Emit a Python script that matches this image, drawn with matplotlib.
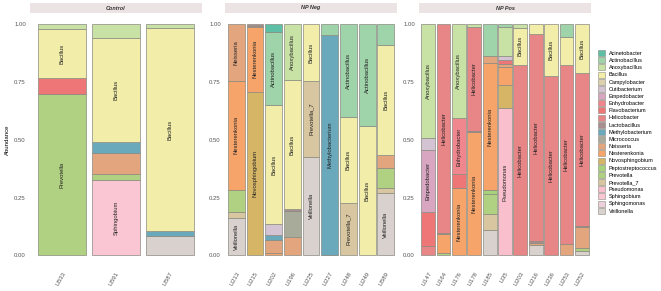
import matplotlib
matplotlib.use('Agg')
import matplotlib.pyplot as plt
from matplotlib.patches import Patch

plt.rcParams['font.family'] = ['Liberation Sans', 'DejaVu Sans']

# genera in legend order (first one ends up at the top of each stack)
genera = ['Acinetobacter', 'Actinobacillus', 'Anoxybacillus', 'Bacillus',
          'Campylobacter', 'Cutibacterium', 'Empedobacter', 'Enhydrobacter',
          'Flavobacterium', 'Helicobacter', 'Lactobacillus', 'Methylobacterium',
          'Micrococcus', 'Neisseria', 'Nesterenkonia', 'Novosphingobium',
          'Peptostreptococcus', 'Prevotella', 'Prevotella_7', 'Pseudomonas',
          'Sphingobium', 'Sphingomonas', 'Veillonella']
colors = ['#5DBFA5', '#9FD3A9', '#C8E2A6', '#F2EEAA',
          '#DCD0AE', '#D3C3D3', '#D9A6C2', '#F0868E',
          '#EE7676', '#E88587', '#A88E90', '#6AA8BC',
          '#A9AB9A', '#E3A57E', '#F6A46A', '#D6B666',
          '#A6D27C', '#B0D181', '#D8C6A0', '#F9BFCC',
          '#FAC6D4', '#EBCFDA', '#D9D1CD']

groups = ['Control', 'NP Neg', 'NP Pos']

control_samples = ['LI533', 'LI591', 'LI587']
control_values = [
    dict(Anoxybacillus=0.022, Bacillus=0.212, Flavobacterium=0.066, Prevotella=0.700),
    dict(Anoxybacillus=0.061, Bacillus=0.447, Methylobacterium=0.050, Neisseria=0.091,
         Prevotella=0.025, Sphingobium=0.326),
    dict(Anoxybacillus=0.017, Bacillus=0.878, Methylobacterium=0.021, Veillonella=0.084),
]

neg_samples = ['LI213', 'LI215', 'LI202', 'LI196', 'LI225', 'LI227', 'LI248', 'LI249', 'LI589']
neg_values = [
    dict(Neisseria=0.244, Nesterenkonia=0.473, Prevotella=0.097, Prevotella_7=0.022,
         Veillonella=0.164),
    dict(Lactobacillus=0.006, Neisseria=0.006, Nesterenkonia=0.280, Novosphingobium=0.708),
    dict(Acinetobacter=0.035, Actinobacillus=0.314, Bacillus=0.517, Cutibacterium=0.046,
         Methylobacterium=0.022, Neisseria=0.057, Nesterenkonia=0.009),
    dict(Anoxybacillus=0.241, Bacillus=0.560, Lactobacillus=0.005, Micrococcus=0.116,
         Neisseria=0.078),
    dict(Bacillus=0.245, Prevotella_7=0.331, Veillonella=0.424),
    dict(Actinobacillus=0.046, Methylobacterium=0.950, Micrococcus=0.004),
    dict(Actinobacillus=0.400, Bacillus=0.371, Prevotella_7=0.229),
    dict(Actinobacillus=0.439, Bacillus=0.561),
    dict(Actinobacillus=0.090, Bacillus=0.474, Neisseria=0.058, Prevotella=0.088,
         Prevotella_7=0.022, Veillonella=0.268),
]

pos_samples = ['LI147', 'LI164', 'LI176', 'LI178', 'LI185', 'LI35', 'LI203', 'LI216',
               'LI236', 'LI253', 'LI252']
pos_values = [
    dict(Anoxybacillus=0.494, Cutibacterium=0.050, Empedobacter=0.267, Flavobacterium=0.150,
         Helicobacter=0.039),
    dict(Lactobacillus=0.005, Helicobacter=0.904, Nesterenkonia=0.082, Prevotella=0.009),
    dict(Anoxybacillus=0.407, Enhydrobacter=0.242, Flavobacterium=0.058, Nesterenkonia=0.293),
    dict(Anoxybacillus=0.010, Helicobacter=0.450, Lactobacillus=0.008, Nesterenkonia=0.532),
    dict(Actinobacillus=0.137, Neisseria=0.032, Nesterenkonia=0.548, Peptostreptococcus=0.018,
         Prevotella=0.086, Prevotella_7=0.069, Veillonella=0.110),
    dict(Actinobacillus=0.010, Anoxybacillus=0.126, Cutibacterium=0.019, Flavobacterium=0.017,
         Neisseria=0.012, Nesterenkonia=0.079, Novosphingobium=0.101, Pseudomonas=0.636),
    dict(Anoxybacillus=0.015, Bacillus=0.160, Helicobacter=0.825),
    dict(Lactobacillus=0.008, Bacillus=0.041, Helicobacter=0.896, Neisseria=0.010,
         Veillonella=0.045),
    dict(Bacillus=0.224, Helicobacter=0.776),
    dict(Actinobacillus=0.054, Bacillus=0.122, Helicobacter=0.776, Neisseria=0.048),
    dict(Bacillus=0.210, Helicobacter=0.663, Lactobacillus=0.004, Neisseria=0.090,
         Prevotella=0.014, Veillonella=0.019),
]

color_of = dict(zip(genera, colors))
W, H = 661, 291
fig = plt.figure(figsize=(W / 100, H / 100), dpi=100)

panel_left = [30, 225, 419]
panel_w = 172
ax_top, ax_bot = 12.7, 267
strip_top = 3.3

panels = [(control_samples, control_values), (neg_samples, neg_values),
          (pos_samples, pos_values)]

for k, (samples, values) in enumerate(panels):
    ax = fig.add_axes([panel_left[k] / W, 1 - ax_bot / H, panel_w / W, (ax_bot - ax_top) / H])
    for i, comp in enumerate(values):
        bottom = 0.0
        for g in reversed(genera):
            v = comp.get(g, 0)
            if v <= 0:
                continue
            ax.bar(i, v, bottom=bottom, width=0.9, color=color_of[g],
                   edgecolor='#8a8a80', linewidth=0.5)
            if v >= 0.155:
                ax.text(i, bottom + v / 2, g, rotation=90, ha='center', va='center',
                        fontsize=4.2, color='#222222')
            bottom += v
    ax.set_xlim(-0.6, len(samples) - 0.4)
    ax.set_ylim(-0.05, 1.05)
    ax.set_yticks([0, 0.25, 0.5, 0.75, 1.0])
    ax.set_yticklabels(['0.00', '0.25', '0.50', '0.75', '1.00'])
    ax.set_xticks(range(len(samples)))
    ax.set_xticklabels(samples, rotation=60, ha='right', va='top', rotation_mode='anchor')
    ax.tick_params(length=0, labelsize=4.3, labelcolor='#555555', pad=3)
    for s in ax.spines.values():
        s.set_visible(False)
    if k == 0:
        ax.set_ylabel('Abundance', fontsize=4.3, labelpad=3)

    sax = fig.add_axes([panel_left[k] / W, 1 - ax_top / H, panel_w / W, (ax_top - strip_top) / H])
    sax.set_facecolor('#ECE4E4')
    sax.set_xticks([])
    sax.set_yticks([])
    for s in sax.spines.values():
        s.set_visible(False)
    sax.text(0.5, 0.5, groups[k], ha='center', va='center', fontsize=4,
             fontweight='bold', fontstyle='italic', color='#333333', transform=sax.transAxes)

handles = [Patch(facecolor=color_of[g], edgecolor='#8a8a80', linewidth=0.4) for g in genera]
fig.legend(handles, genera, loc='upper left', bbox_to_anchor=(598 / W, 1 - 50 / H),
           frameon=False, fontsize=4, handlelength=1.3, handleheight=1.3,
           labelspacing=0.2, handletextpad=0.6, borderpad=0, borderaxespad=0)

fig.savefig('out.png', dpi=100)
